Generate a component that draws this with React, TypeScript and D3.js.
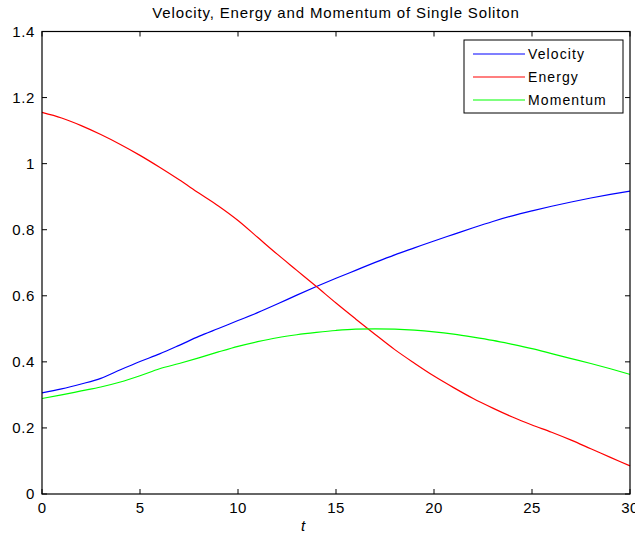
import React from "react";
import * as d3 from "d3";

const tValues = d3.range(0, 31);
const velocity = [0.306, 0.318, 0.333, 0.35, 0.376, 0.401, 0.424, 0.45, 0.477, 0.501, 0.525, 0.549, 0.575, 0.602, 0.628, 0.653, 0.677, 0.701, 0.724, 0.745, 0.766, 0.786, 0.806, 0.825, 0.842, 0.857, 0.871, 0.884, 0.896, 0.907, 0.917];
const energy = [1.155, 1.138, 1.115, 1.088, 1.058, 1.025, 0.989, 0.951, 0.911, 0.872, 0.828, 0.777, 0.726, 0.677, 0.628, 0.578, 0.53, 0.483, 0.437, 0.396, 0.357, 0.322, 0.289, 0.26, 0.233, 0.209, 0.187, 0.163, 0.137, 0.111, 0.085];
const momentum = [0.289, 0.3, 0.312, 0.324, 0.339, 0.358, 0.379, 0.395, 0.412, 0.43, 0.447, 0.461, 0.473, 0.482, 0.489, 0.495, 0.499, 0.5, 0.499, 0.496, 0.491, 0.484, 0.475, 0.465, 0.453, 0.44, 0.425, 0.41, 0.395, 0.379, 0.362];
const seriesNames = ["Velocity", "Energy", "Momentum"];
const seriesColors = ["#0000ff", "#ff0000", "#00ff00"];
const xTicks = [0, 5, 10, 15, 20, 25, 30];
const yTicks = [0, 0.2, 0.4, 0.6, 0.8, 1, 1.2, 1.4];

export default function App() {
  const W = 635, H = 538;
  const left = 42, right = 630, top = 31.5, bottom = 494;
  const x = d3.scaleLinear().domain([0, 30]).range([left, right]);
  const y = d3.scaleLinear().domain([0, 1.4]).range([bottom, top]);
  const line = d3.line<number>().x((_, i) => x(tValues[i])).y((d) => y(d)).curve(d3.curveMonotoneX);
  const data = [velocity, energy, momentum];
  const font = "'Liberation Sans', Arial, sans-serif";
  const tl = 5;
  return (
    <svg width={W} height={H} style={{ position: "absolute", left: 0, top: 0, display: "block", background: "#fff" }} fontFamily={font}>
      <rect x={0} y={0} width={W} height={H} fill="#fff" />
      <text x={336} y={18} textAnchor="middle" fontSize={15} letterSpacing={0.85} fill="#000">Velocity, Energy and Momentum of Single Soliton</text>
      {data.map((d, i) => (
        <path key={i} d={line(d) || ""} fill="none" stroke={seriesColors[i]} strokeWidth={1.2} />
      ))}
      <rect x={left} y={top} width={right - left} height={bottom - top} fill="none" stroke="#000" strokeWidth={1.2} />
      {xTicks.map((t) => (
        <g key={"x" + t}>
          <line x1={x(t)} x2={x(t)} y1={bottom} y2={bottom - tl} stroke="#000" />
          <line x1={x(t)} x2={x(t)} y1={top} y2={top + tl} stroke="#000" />
          <text x={x(t)} y={513} textAnchor="middle" fontSize={15} letterSpacing={0.4} fill="#000">{t}</text>
        </g>
      ))}
      {yTicks.map((t) => (
        <g key={"y" + t}>
          <line x1={left} x2={left + tl} y1={y(t)} y2={y(t)} stroke="#000" />
          <line x1={right} x2={right - tl} y1={y(t)} y2={y(t)} stroke="#000" />
          <text x={35} y={y(t) + 5} textAnchor="end" fontSize={15} letterSpacing={0.6} fill="#000">{d3.format("")(t)}</text>
        </g>
      ))}
      <text x={303} y={531} textAnchor="middle" fontSize={15} fontStyle="italic" fill="#000">t</text>
      <rect x={464} y={40} width={159} height={73} fill="#fff" stroke="#000" strokeWidth={1} />
      {seriesNames.map((n, i) => (
        <g key={n}>
          <line x1={473} x2={525} y1={54 + i * 23} y2={54 + i * 23} stroke={seriesColors[i]} strokeWidth={1.2} />
          <text x={528} y={54 + i * 23 + 5} fontSize={14} letterSpacing={1.1} fill="#000">{n}</text>
        </g>
      ))}
    </svg>
  );
}
